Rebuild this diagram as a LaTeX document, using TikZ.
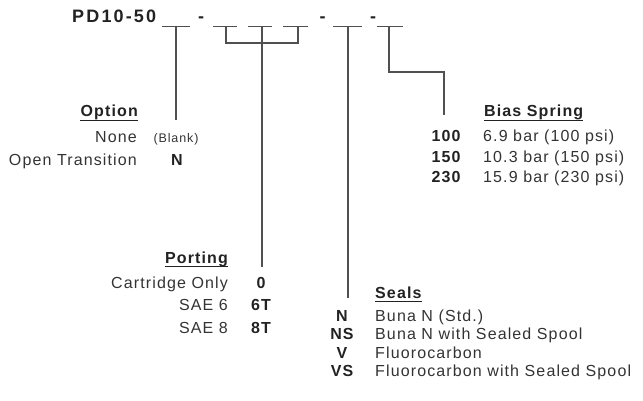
\documentclass[tikz,border=0pt]{standalone}
\usepackage{fontspec}
\setmainfont{Liberation Sans}[LetterSpace=7]
\newfontfamily\titlefont{Liberation Sans}[LetterSpace=12]
\usetikzlibrary{calc}
\definecolor{linec}{HTML}{505050}
\definecolor{txtc}{HTML}{333333}
\definecolor{codec}{HTML}{222222}
\tikzset{
  conn/.style={draw=linec, line width=1.2pt},
  slot/.style={draw=linec, line width=1.2pt},
  lbl/.style={inner sep=0pt, text=txtc, font=\fontsize{16}{19}\selectfont},
  small/.style={inner sep=0pt, text=txtc, font=\fontsize{12.5}{15}\selectfont, anchor=base},
  code/.style={inner sep=0pt, text=codec, font=\fontsize{16}{19}\selectfont\bfseries, anchor=base},
  head/.style={inner sep=0pt, text=codec, font=\fontsize{16}{19}\selectfont\bfseries},
  titl/.style={inner sep=0pt, text=codec, font=\fontsize{18}{21}\selectfont\titlefont\bfseries},
  uline/.style={draw=codec, line width=1.3pt}
}
\begin{document}
\begin{tikzpicture}[x=1pt,y=-1pt]
\useasboundingbox (0,0) rectangle (643,401);
% title and slots
\node[titl, anchor=base west] (title) at (72,23) {PD10-50};
\node[titl, anchor=base] (d1) at (201,23) {-};
\node[titl, anchor=base] (d2) at (322.5,23) {-};
\node[titl, anchor=base] (d3) at (373,23) {-};
\coordinate (a1) at (162,26.5); \coordinate (b1) at (190,26.5);
\coordinate (a2) at (213,26.5); \coordinate (b2) at (237,26.5);
\coordinate (a3) at (248,26.5); \coordinate (b3) at (272,26.5);
\coordinate (a4) at (283,26.5); \coordinate (b4) at (308,26.5);
\coordinate (a5) at (333,26.5); \coordinate (b5) at (362,26.5);
\coordinate (a6) at (377,26.5); \coordinate (b6) at (403,26.5);
\foreach \i in {1,...,6} {\draw[slot] (a\i) -- (b\i);}
% connector tops
\coordinate (opt) at (176,26.5);
\coordinate (pl) at (226,26.5);
\coordinate (pm) at (262,26.5);
\coordinate (pr) at (298,26.5);
\coordinate (sl) at (348,26.5);
\coordinate (bs) at (389,26.5);
% connector ends
\coordinate (optE) at (176,120);
\coordinate (plB) at (226,43);
\coordinate (prB) at (298,43);
\coordinate (pmE) at (262,267);
\coordinate (slE) at (348,298);
\coordinate (bsK) at (389,72);
\coordinate (bsK2) at (444,72);
\coordinate (bsE) at (444,115);
\draw[conn] (opt) -- (optE);
\draw[conn] (pl) -- (plB) -- (prB) -- (pr);
\draw[conn] (pm) -- (pmE);
\draw[conn] (sl) -- (slE);
\draw[conn] (bs) -- (bsK) -- (bsK2) -- (bsE);
% Option
\node[head, anchor=base east] (oh) at (138,117) {Option};
\draw[uline] ($(oh.base west)+(0,3.5)$) -- ($(oh.base east)+(0,3.5)$);
\node[lbl, anchor=base east] (o1) at (137,143) {None};
\node[small] (o1c) at (176,143) {(Blank)};
\node[lbl, anchor=base east] (o2) at (137,166) {Open Transition};
\node[code] (o2c) at (177,166) {N};
% Bias Spring
\node[head, anchor=base west] (bh) at (484,117) {Bias Spring};
\draw[uline] ($(bh.base west)+(0,3.5)$) -- ($(bh.base east)+(0,3.5)$);
\node[code] (b1c) at (446,142) {100};
\node[lbl, anchor=base west] (b1t) at (483,142) {6.9 bar (100 psi)};
\node[code] (b2c) at (446,162.5) {150};
\node[lbl, anchor=base west] (b2t) at (483,162.5) {10.3 bar (150 psi)};
\node[code] (b3c) at (446,182.5) {230};
\node[lbl, anchor=base west] (b3t) at (483,182.5) {15.9 bar (230 psi)};
% Porting
\node[head, anchor=base east] (ph) at (228,263) {Porting};
\draw[uline] ($(ph.base west)+(0,3.5)$) -- ($(ph.base east)+(0,3.5)$);
\node[lbl, anchor=base east] (p1) at (228,288) {Cartridge Only};
\node[code] (p1c) at (261,288) {0};
\node[lbl, anchor=base east] (p2) at (228,310) {SAE 6};
\node[code] (p2c) at (261,310) {6T};
\node[lbl, anchor=base east] (p3) at (228,333) {SAE 8};
\node[code] (p3c) at (261,333) {8T};
% Seals
\node[head, anchor=base west] (sh) at (375,298) {Seals};
\draw[uline] ($(sh.base west)+(0,3.5)$) -- ($(sh.base east)+(0,3.5)$);
\node[code] (s1c) at (342,321) {N};
\node[lbl, anchor=base west] (s1t) at (375,321) {Buna N (Std.)};
\node[code] (s2c) at (342,339.5) {NS};
\node[lbl, anchor=base west] (s2t) at (375,339.5) {Buna N with Sealed Spool};
\node[code] (s3c) at (342,358) {V};
\node[lbl, anchor=base west] (s3t) at (375,358) {Fluorocarbon};
\node[code] (s4c) at (342,376.5) {VS};
\node[lbl, anchor=base west] (s4t) at (375,376.5) {Fluorocarbon with Sealed Spool};
\end{tikzpicture}
\end{document}
